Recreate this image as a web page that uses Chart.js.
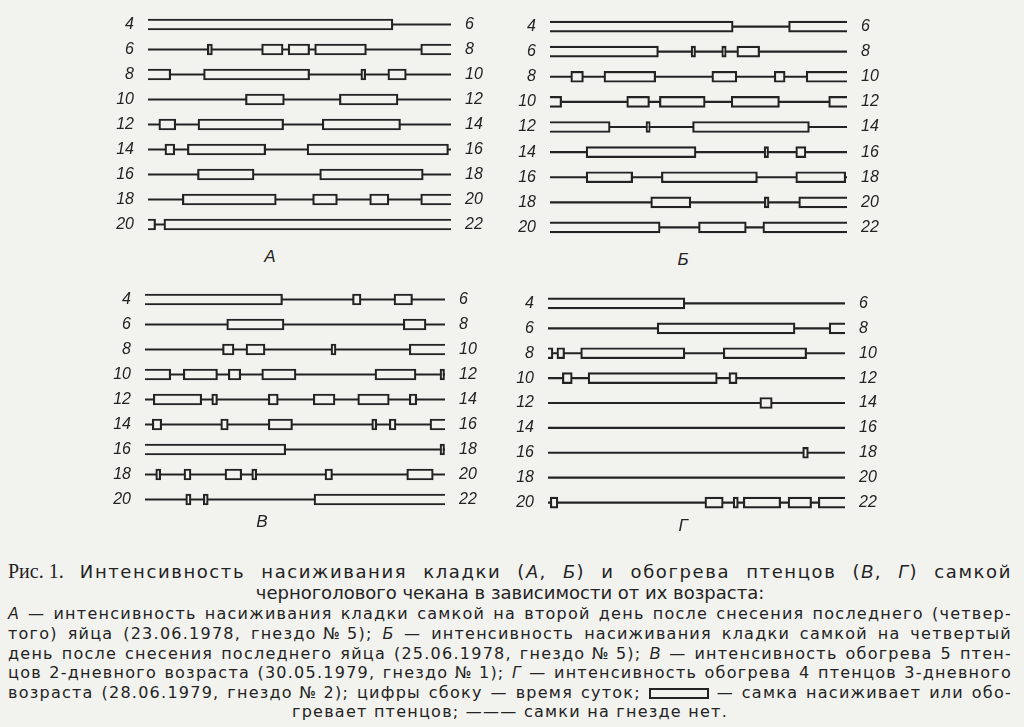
<!DOCTYPE html>
<html>
<head>
<meta charset="utf-8">
<script src="https://cdn.jsdelivr.net/npm/chart.js@4/dist/chart.umd.min.js"></script>
<style>
  body {
    margin: 0;
    width: 1024px;
    height: 727px;
    background: #f2f2ef;
    position: relative;
    overflow: hidden;
    color: #232323;
  }
  canvas { position: absolute; }
  .letter {
    position: absolute;
    font: italic 17px "Liberation Sans", sans-serif;
    transform: translate(-50%, -50%);
  }
  .cap {
    position: absolute;
    left: 8px;
    width: 1004px;
    white-space: nowrap;
    font-family: "DejaVu Sans", sans-serif;
  }
  .title { font-size: 18px; line-height: 22px; }
  .t1 { letter-spacing: 1.6px; }
  .body { font-size: 16px; line-height: 20px; letter-spacing: 1.25px; }
  .j { text-align: justify; text-align-last: justify; }
  .c { text-align: center; }
  .k { display: inline-block; }
  .serif { font-family: "Liberation Serif", serif; font-size: 20px; letter-spacing: 0; }
  i { font-family: "Liberation Sans", sans-serif; }
  .sym {
    display: inline-block;
    width: 56px;
    height: 7px;
    border: 2px solid #232323;
    vertical-align: -1px;
  }
</style>
</head>
<body>

<div class="cap title t1 j" style="top:560px"><span class="serif k">Рис. 1.</span> Интенсивность насиживания кладки (<i>А</i>, <i>Б</i>) и обогрева птенцов (<i>В</i>, <i>Г</i>) самкой</div>
<div class="cap title c" style="top:582px">черноголового чекана в зависимости от их возраста:</div>
<div class="cap body j" style="top:604px"><i>А</i> — интенсивность насиживания кладки самкой на второй день после снесения последнего (четвер-</div>
<div class="cap body j" style="top:624px">того) яйца (23.06.1978, <span class="k">гнездо №&nbsp;5);</span> <i>Б</i> — интенсивность насиживания кладки самкой на четвертый</div>
<div class="cap body j" style="top:644px">день после снесения последнего яйца (25.06.1978, <span class="k">гнездо №&nbsp;5);</span> <i>В</i> — интенсивность обогрева 5 птен-</div>
<div class="cap body j" style="top:663px">цов 2-дневного возраста (30.05.1979, <span class="k">гнездо №&nbsp;1);</span> <i>Г</i> — интенсивность обогрева 4 птенцов 3-дневного</div>
<div class="cap body j" style="top:683px">возраста (28.06.1979, <span class="k">гнездо №&nbsp;2);</span> цифры сбоку — время суток; <span class="sym"></span> — самка насиживает или обо-</div>
<div class="cap body c" style="top:702px">гревает птенцов; ——— самки на гнезде нет.</div>

<script>
// Rows: start and end hour of each two-hour strip
const startHours = [4, 6, 8, 10, 12, 14, 16, 18, 20];
const endHours = [6, 8, 10, 12, 14, 16, 18, 20, 22];
const rowMinutes = 120;

// Female on the nest: [row start hour, from minute, to minute]
const boxesA = [
  [4, 0, 97],
  [6, 23.5, 25.5], [6, 45, 53.5], [6, 55.5, 64], [6, 66, 86.5], [6, 108, 120],
  [8, 0, 9], [8, 22, 64], [8, 84.3, 86.2], [8, 95, 102.3],
  [10, 38.6, 54], [10, 75.8, 99],
  [12, 4.3, 11], [12, 19.8, 53.7], [12, 69, 100],
  [14, 6.7, 10.6], [14, 15.6, 46.6], [14, 63, 119],
  [16, 19.6, 42], [16, 68, 109],
  [18, 13.6, 50.8], [18, 65.2, 75], [18, 87.8, 95.4], [18, 108, 120],
  [20, 0, 3], [20, 6.3, 120],
];

const boxesB = [
  [4, 0, 74], [4, 96.4, 120],
  [6, 0, 43.8], [6, 57, 58.8], [6, 69.4, 71.2], [6, 75.5, 84.7],
  [8, 8.4, 13.5], [8, 21.8, 42.7], [8, 65.4, 75.5], [8, 90.6, 95], [8, 103.5, 120],
  [10, 0, 4.7], [10, 31, 40.2], [10, 44.2, 62.7], [10, 73.2, 92.7], [10, 112.6, 120],
  [12, 0, 24.3], [12, 38.8, 40.5], [12, 57.6, 104.8],
  [14, 14.6, 59], [14, 86.5, 88.3], [14, 99.3, 103.4],
  [16, 14.6, 33.4], [16, 45, 83.8], [16, 99.3, 119.5],
  [18, 40.7, 56.9], [18, 86.6, 88.5], [18, 100.5, 120],
  [20, 0, 44.5], [20, 60, 79.3], [20, 86, 120],
];

const boxesV = [
  [4, 0, 55], [4, 83, 86.4], [4, 99.6, 107],
  [6, 32.7, 55.6], [6, 103.3, 112.4],
  [8, 31, 35.6], [8, 40.4, 48], [8, 74.4, 76.4], [8, 105.7, 120],
  [10, 0, 10.3], [10, 15.3, 29], [10, 33.3, 38.3], [10, 46.7, 60.4], [10, 92, 108.4], [10, 118, 119.8],
  [12, 3.3, 22.7], [12, 26.7, 29], [12, 49.3, 53.3], [12, 67.3, 76], [12, 85.1, 97.7], [12, 105.7, 108.7],
  [14, 2.9, 6.7], [14, 30.3, 33.3], [14, 49.3, 59], [14, 90.7, 92.7], [14, 97.7, 100.4], [14, 114, 120],
  [16, 0, 56.3], [16, 118, 119.8],
  [18, 4.3, 6.3], [18, 15.6, 18.4], [18, 32, 38.7], [18, 42.7, 44.7], [18, 72, 75], [18, 104.7, 115.3],
  [20, 16.3, 18.4], [20, 23.3, 25.3], [20, 67.6, 120],
];

const boxesG = [
  [4, 0, 55.3],
  [6, 44.1, 99.8], [6, 113.6, 120],
  [8, 0, 2], [8, 3.6, 6.7], [8, 13.2, 55.3], [8, 70.8, 104.5],
  [10, 5.8, 9.8], [10, 16.2, 68.4], [10, 73.1, 76.4],
  [12, 85.6, 90.6],
  [16, 102.9, 105.2],
  [20, 0.9, 4], [20, 63.4, 70.8], [20, 74.8, 76.9], [20, 78.9, 94], [20, 97, 106.5], [20, 109.2, 120],
];

const ink = "#232323";
const paper = "#f2f2ef";

// Page placement of each panel
const panels = [
  { boxes: boxesA, letter: "А", x0: 148, x1: 451, yTop: 24, yBottom: 224, lx: 270, ly: 257 },
  { boxes: boxesB, letter: "Б", x0: 550, x1: 847, yTop: 27, yBottom: 228, lx: 683, ly: 260 },
  { boxes: boxesV, letter: "В", x0: 145, x1: 445, yTop: 299, yBottom: 499, lx: 262, ly: 522 },
  { boxes: boxesG, letter: "Г", x0: 548, x1: 845, yTop: 303, yBottom: 502, lx: 683, ly: 526 },
];

const axisWidth = 40;

// fixed axis width, and no extra room for the end labels
function fixAxis(scale) {
  scale.width = axisWidth;
  scale.paddingTop = 0;
  scale.paddingBottom = 0;
}

function openSide(ctx) {
  const r = ctx.raw;
  if (!r) return false;
  if (r.x[0] <= 0) return "left";
  if (r.x[1] >= rowMinutes) return "right";
  return false;
}

function drawPanel(p) {
  const pitch = (p.yBottom - p.yTop) / (startHours.length - 1);
  const canvas = document.createElement("canvas");
  const w = p.x1 - p.x0 + axisWidth * 2;
  const h = Math.round(pitch * startHours.length + 4);
  canvas.width = w;
  canvas.height = h;
  canvas.style.left = p.x0 - axisWidth + "px";
  canvas.style.top = p.yTop - pitch / 2 - 2 + "px";
  canvas.style.width = w + "px";
  canvas.style.height = h + "px";
  document.body.appendChild(canvas);

  const label = document.createElement("div");
  label.className = "letter";
  label.textContent = p.letter;
  label.style.left = p.lx + "px";
  label.style.top = p.ly + "px";
  document.body.appendChild(label);

  const tickFont = { family: "'Liberation Sans', sans-serif", size: 16, style: "italic" };

  new Chart(canvas, {
    type: "bar",
    data: {
      labels: startHours.map(String),
      datasets: [
        {
          label: "самка насиживает",
          data: p.boxes.map((b) => ({ y: String(b[0]), x: [b[1], b[2]] })),
          backgroundColor: paper,
          borderColor: ink,
          borderWidth: 2.2,
          borderSkipped: openSide,
          barThickness: 11,
          grouped: false,
          order: 0,
        },
        {
          label: "самки на гнезде нет",
          data: startHours.map((hr) => ({ y: String(hr), x: [0, rowMinutes] })),
          backgroundColor: ink,
          borderWidth: 0,
          barThickness: 1.5,
          grouped: false,
          order: 1,
        },
      ],
    },
    options: {
      indexAxis: "y",
      responsive: false,
      animation: false,
      layout: { padding: { top: 2, bottom: 2, left: 0, right: 0 } },
      plugins: {
        legend: { display: false },
        tooltip: { enabled: false },
      },
      scales: {
        x: { type: "linear", min: 0, max: rowMinutes, display: false },
        y: {
          type: "category",
          position: "left",
          offset: true,
          grid: { display: false },
          border: { display: false },
          ticks: { font: tickFont, color: ink, padding: 6 },
          afterFit: fixAxis,
        },
        y2: {
          type: "category",
          labels: endHours.map(String),
          position: "right",
          offset: true,
          grid: { display: false },
          border: { display: false },
          ticks: { font: tickFont, color: ink, padding: 6 },
          afterFit: fixAxis,
        },
      },
    },
  });
}

panels.forEach(drawPanel);
</script>
</body>
</html>
